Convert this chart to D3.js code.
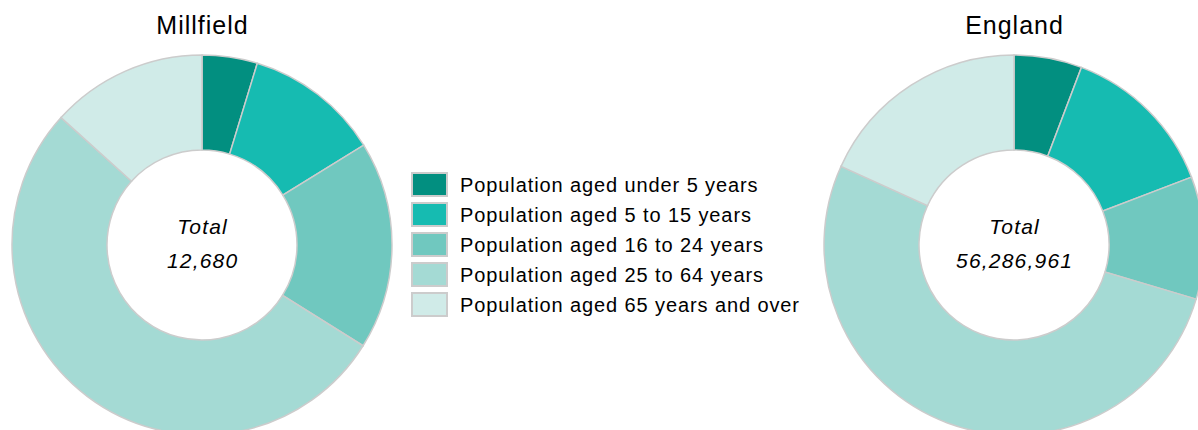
<!DOCTYPE html>
<html>
<head>
<meta charset="utf-8">
<script src="https://cdn.jsdelivr.net/npm/d3@7/dist/d3.min.js"></script>
<style>
  html, body { margin: 0; padding: 0; background: #fff; }
  svg { display: block; font-family: "Liberation Sans", Arial, sans-serif; }
</style>
</head>
<body>
<svg id="chart" width="1198" height="430"></svg>
<script>
const categories = [
  "Population aged under 5 years",
  "Population aged 5 to 15 years",
  "Population aged 16 to 24 years",
  "Population aged 25 to 64 years",
  "Population aged 65 years and over"
];
const areas = ["Millfield", "England"];
const millfieldValues = [596, 1458, 2244, 6695, 1687];
const englandValues = [3250000, 7550000, 5860000, 29380000, 10246961];
const totalLabels = ["12,680", "56,286,961"];
const colors = ["#028f80", "#16bbb1", "#70c8bf", "#a4dad4", "#d0ebe8"];

const svg = d3.select("#chart");
const color = d3.scaleOrdinal().domain(categories).range(colors);
const pie = d3.pie().sort(null).value(d => d.value);
const outerR = 190, innerR = 95;
const arc = d3.arc().innerRadius(innerR).outerRadius(outerR);
const centers = [[202, 245], [1014, 245]];
const series = [millfieldValues, englandValues];

areas.forEach((name, k) => {
  const [cx, cy] = centers[k];
  const data = categories.map((c, i) => ({ cat: c, value: series[k][i] }));
  const g = svg.append("g").attr("transform", `translate(${cx},${cy})`);
  g.selectAll("path").data(pie(data)).join("path")
    .attr("d", arc)
    .attr("fill", d => color(d.data.cat))
    .attr("stroke", "#cccccc")
    .attr("stroke-width", 1.5);
  svg.append("text")
    .attr("x", cx + 0.5).attr("y", 34)
    .attr("text-anchor", "middle")
    .attr("font-size", 25)
    .attr("letter-spacing", "1px")
    .attr("fill", "#000")
    .text(name);
  g.append("text")
    .attr("x", 0.6).attr("y", -11)
    .attr("text-anchor", "middle")
    .attr("font-size", 21).attr("font-style", "italic")
    .attr("letter-spacing", "1.2px")
    .text("Total");
  g.append("text")
    .attr("x", 0.6).attr("y", 23)
    .attr("text-anchor", "middle")
    .attr("font-size", 21).attr("font-style", "italic")
    .attr("letter-spacing", "1.2px")
    .text(totalLabels[k]);
});

const legend = svg.append("g").attr("transform", "translate(412,173)");
const rows = legend.selectAll("g").data(categories).join("g")
  .attr("transform", (d, i) => `translate(0,${i * 30})`);
rows.append("rect")
  .attr("width", 35).attr("height", 23)
  .attr("fill", d => color(d))
  .attr("stroke", "#cccccc").attr("stroke-width", 2);
rows.append("text")
  .attr("x", 48).attr("y", 19)
  .attr("font-size", 20)
  .attr("letter-spacing", "0.9px")
  .attr("fill", "#000")
  .text(d => d);
</script>
</body>
</html>
